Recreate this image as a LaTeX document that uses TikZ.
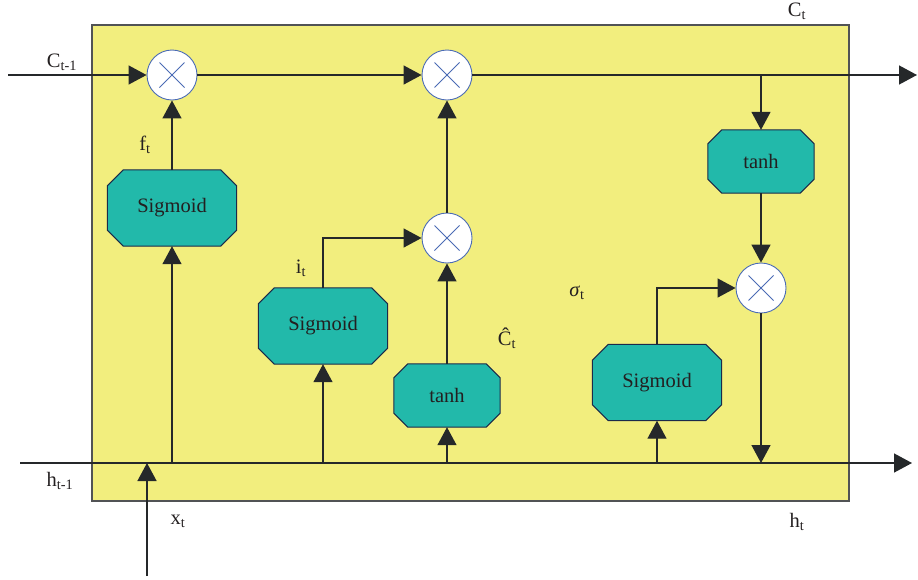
\documentclass[tikz,border=0pt]{standalone}
\usepackage{fontspec}
\setmainfont{Liberation Serif}
\usetikzlibrary{arrows.meta,calc,backgrounds}
\definecolor{cellyellow}{HTML}{F2EE7E}
\definecolor{gateteal}{HTML}{22B9AA}
\definecolor{gateedge}{HTML}{1B2A4A}
\definecolor{wire}{HTML}{25282A}
\definecolor{multblue}{HTML}{4A6BB5}
\definecolor{txt}{HTML}{231F20}
\newcommand\octagonshape[2]{%
  \fill[gateteal,draw=gateedge,line width=1pt]
    ($(#1.north west)+(#2,0)$) -- ($(#1.north east)+(-#2,0)$) --
    ($(#1.north east)+(0,#2)$) -- ($(#1.south east)+(0,-#2)$) --
    ($(#1.south east)+(-#2,0)$) -- ($(#1.south west)+(#2,0)$) --
    ($(#1.south west)+(0,-#2)$) -- ($(#1.north west)+(0,#2)$) -- cycle;}
\begin{document}
\begin{tikzpicture}[x=1pt,y=-1pt,
  font=\fontsize{20.5}{23}\selectfont, text=txt,
  gate/.style={inner sep=0pt, minimum width=129pt, minimum height=76pt},
  tgate/.style={inner sep=0pt, minimum width=106pt, minimum height=63pt},
  mult/.style={circle, draw=multblue, fill=white, line width=0.9pt, minimum size=50pt, inner sep=0pt,
    path picture={\draw[multblue,line width=0.9pt]
      ($(path picture bounding box.center)+(-12.5,-12.5)$) -- ($(path picture bounding box.center)+(12.5,12.5)$)
      ($(path picture bounding box.center)+(-12.5,12.5)$) -- ($(path picture bounding box.center)+(12.5,-12.5)$);}},
  arr/.style={draw=wire, line width=1.4pt, -{Triangle[length=18pt,width=19pt]}},
  lbl/.style={inner sep=0pt}]
\useasboundingbox (0,0) rectangle (918,579);

% gates
\node[gate] (fs) at (172,208) {Sigmoid};
\node[gate] (is) at (323,326) {Sigmoid};
\node[tgate] (th1) at (447,395.5) {tanh};
\node[tgate] (th2) at (761,161.5) {tanh};
\node[gate] (os) at (657,382.5) {Sigmoid};

\begin{pgfonlayer}{background}
  \node[fill=cellyellow, draw=wire!80, line width=1.2pt, inner sep=0pt,
        minimum width=757pt, minimum height=476pt] (cell) at (470.5,263) {};
  \octagonshape{fs}{16}
  \octagonshape{is}{16}
  \octagonshape{os}{16}
  \octagonshape{th1}{14}
  \octagonshape{th2}{14}
\end{pgfonlayer}

% multiplication nodes
\node[mult] (m1) at (172,75) {};
\node[mult] (m2) at (447,75) {};
\node[mult] (m3) at (447,238) {};
\node[mult] (m4) at (761,288) {};

% free ends
\coordinate (cin) at (8,75);
\coordinate (cout) at (917,75);
\coordinate (hin) at (20,463);
\coordinate (hout) at (912,463);
\coordinate (xin) at (147,576);
\coordinate (xend) at (147,463);

% cell state line
\draw[arr] (cin) -- (m1);
\draw[arr] (m1) -- (m2);
\draw[arr] (m2) -- (cout);
\draw[arr] (th2 |- m2) -- (th2);
\draw[arr] (th2) -- (m4);
\draw[arr] (m4) -- (m4 |- hin);

% hidden state line
\draw[arr] (hin) -- (hout);
\draw[arr] (xin) -- (xend);

% forget gate
\draw[arr] (fs |- hin) -- (fs);
\draw[arr] (fs) -- (m1);
% input gate
\draw[arr] (is |- hin) -- (is);
\draw[arr] (is.north) |- (m3);
\draw[arr] (th1 |- hin) -- (th1);
\draw[arr] (th1) -- (m3);
\draw[arr] (m3) -- (m2);
% output gate
\draw[arr] (os |- hin) -- (os);
\draw[arr] (os.north) |- (m4);

% labels
\node[lbl] (lc) at (62,62) {C\textsubscript{t-1}};
\node[lbl] (lf) at (145,145) {f\textsubscript{t}};
\node[lbl] (li) at (301,268) {i\textsubscript{t}};
\node[lbl] (lch) at (507,338) {\raisebox{0pt}{Ĉ}\textsubscript{t}};
\node[lbl] (ls) at (577,293) {\textit{σ}\textsubscript{t}};
\node[lbl] (lct) at (797,11) {C\textsubscript{t}};
\node[lbl] (lh) at (60,481) {h\textsubscript{t-1}};
\node[lbl] (lx) at (178,521) {x\textsubscript{t}};
\node[lbl] (lht) at (797,522) {h\textsubscript{t}};
\end{tikzpicture}
\end{document}
